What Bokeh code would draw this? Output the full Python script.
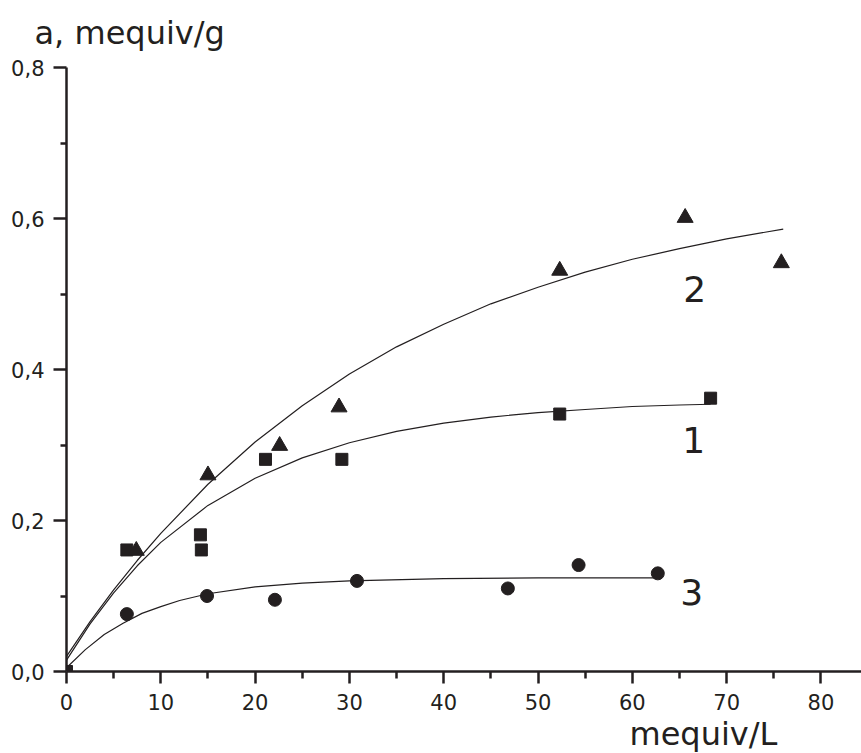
from bokeh.plotting import figure
from bokeh.models import Range1d, FixedTicker, CustomJSTickFormatter, Label, Title
from bokeh.embed import file_html
from bokeh.resources import INLINE

INK = "#231f20"
FONT = "DejaVu Sans"

# ---- data ----
# series 1 (squares)
x1 = [0.0, 6.4, 14.2, 14.3, 21.1, 29.2, 52.3, 68.3]
y1 = [0.0, 0.161, 0.181, 0.161, 0.281, 0.281, 0.341, 0.362]
# series 2 (triangles)
x2 = [7.4, 15.0, 22.6, 28.9, 52.3, 65.6, 75.8]
y2 = [0.160, 0.260, 0.299, 0.350, 0.531, 0.601, 0.541]
# series 3 (circles)
x3 = [6.4, 14.9, 22.1, 30.8, 46.8, 54.3, 62.7]
y3 = [0.076, 0.100, 0.095, 0.120, 0.110, 0.141, 0.130]

# fitted curves
cx1 = [0, 2.5, 5, 7.5, 10, 15, 20, 25, 30, 35, 40, 45, 50, 55, 60, 65, 68.3]
cy1 = [0.015, 0.063, 0.104, 0.140, 0.171, 0.220, 0.256, 0.283, 0.303, 0.318,
       0.329, 0.337, 0.343, 0.347, 0.351, 0.353, 0.354]
cx2 = [0, 2.5, 5, 7.5, 10, 15, 20, 25, 30, 35, 40, 45, 50, 55, 60, 65, 70, 76]
cy2 = [0.020, 0.066, 0.108, 0.147, 0.183, 0.248, 0.304, 0.352, 0.394, 0.430,
       0.460, 0.487, 0.509, 0.529, 0.546, 0.560, 0.573, 0.586]
cx3 = [0, 2, 4, 6, 8, 10, 12, 15, 20, 25, 30, 40, 50, 62.7]
cy3 = [0.005, 0.029, 0.049, 0.064, 0.077, 0.086, 0.094, 0.103, 0.112, 0.117,
       0.120, 0.123, 0.124, 0.124]

curve_names = ["1", "2", "3"]

x_ticks = [0, 10, 20, 30, 40, 50, 60, 70, 80]
x_minor = [5, 15, 25, 35, 45, 55, 65, 75]
y_ticks = [0.0, 0.2, 0.4, 0.6, 0.8]
y_minor = [0.1, 0.3, 0.5, 0.7]

x_title = "mequiv/L"
y_title = "a, mequiv/g"

# ---- figure ----
p = figure(width=861, height=753,
           x_range=Range1d(0, 84.3), y_range=Range1d(0, 0.8),
           output_backend="svg", toolbar_location=None,
           min_border_left=66, min_border_right=0,
           min_border_top=67, min_border_bottom=82)
p.grid.visible = False
p.outline_line_color = None
p.background_fill_color = "white"
p.border_fill_color = "white"

for ax in (p.xaxis[0], p.yaxis[0]):
    ax.axis_line_color = INK
    ax.axis_line_width = 2.5
    ax.major_tick_line_color = INK
    ax.major_tick_line_width = 2.5
    ax.minor_tick_line_color = INK
    ax.minor_tick_line_width = 2.5
    ax.major_tick_in = 0
    ax.minor_tick_in = 0
    ax.major_label_text_font = FONT
    ax.major_label_text_font_size = "21px"
    ax.major_label_text_color = INK

p.xaxis.major_tick_out = 12
p.xaxis.minor_tick_out = 7
p.yaxis.major_tick_out = 13
p.yaxis.minor_tick_out = 6
p.xaxis.ticker = FixedTicker(ticks=x_ticks, minor_ticks=x_minor)
p.yaxis.ticker = FixedTicker(ticks=y_ticks, minor_ticks=y_minor)
p.xaxis.formatter = CustomJSTickFormatter(code="return tick.toFixed(0);")
p.yaxis.formatter = CustomJSTickFormatter(code="return tick.toFixed(1).replace('.', ',');")
p.xaxis.major_label_standoff = 10
p.yaxis.major_label_standoff = 9

# curves
for cx, cy in ((cx1, cy1), (cx2, cy2), (cx3, cy3)):
    p.line(cx, cy, line_color=INK, line_width=1.2)

# markers
p.scatter(x1, y1, marker="square", size=12, color=INK)
p.scatter(x2, y2, marker="triangle", size=16, color=INK)
p.scatter(x3, y3, marker="circle", size=13, color=INK)

# curve numbers
for name, lx, ly in zip(curve_names, [66.5, 66.6, 66.3], [0.306, 0.507, 0.105]):
    p.add_layout(Label(x=lx, y=ly, text=name, text_align="center",
                       text_baseline="alphabetic", text_font=FONT,
                       text_font_size="36px", text_color=INK))

# axis titles (a blank spacer title keeps the y title clear of the frame)
spacer = Title(text=" ", standoff=0, text_font=FONT, text_font_size="12px")
p.add_layout(spacer, "above")
t_y = Title(text=y_title, align="left", offset=-32, standoff=0,
            text_font=FONT, text_font_size="32px", text_font_style="normal",
            text_color=INK)
p.add_layout(t_y, "above")
t_x = Title(text=x_title, align="left", offset=563, standoff=0,
            text_font=FONT, text_font_size="32px", text_font_style="normal",
            text_color=INK)
p.add_layout(t_x, "below")

open("out.html", "w").write(file_html(p, INLINE))
